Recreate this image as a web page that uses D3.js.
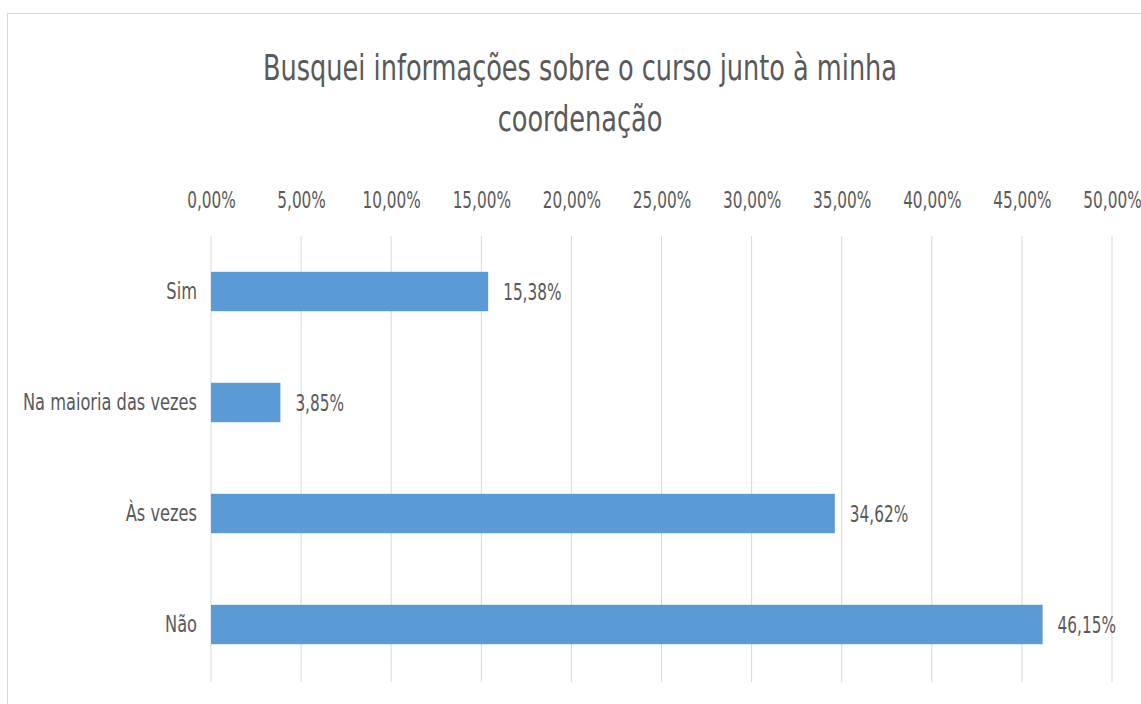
<!DOCTYPE html>
<html><head><meta charset="utf-8">
<script src="https://cdn.jsdelivr.net/npm/d3@7"></script>
<style>
body{margin:0;background:#fff;}
text{font-family:"DejaVu Sans Condensed","DejaVu Sans",sans-serif;fill:#595959;}
</style></head>
<body><svg id="c" width="1141" height="704"></svg>
<script>
const categories = ["Sim", "Na maioria das vezes", "Às vezes", "Não"];
const values = [15.38, 3.85, 34.62, 46.15];
const valueLabels = ["15,38%", "3,85%", "34,62%", "46,15%"];
const ticks = [0, 5, 10, 15, 20, 25, 30, 35, 40, 45, 50];
const tickLabels = ["0,00%","5,00%","10,00%","15,00%","20,00%","25,00%","30,00%","35,00%","40,00%","45,00%","50,00%"];
const titleLines = ["Busquei informações sobre o curso junto à minha", "coordenação"];

const svg = d3.select("#c");
svg.append("rect").attr("x",7.5).attr("y",13.5).attr("width",1160).attr("height",720)
  .attr("fill","none").attr("stroke","#d9d9d9").attr("stroke-width",1);

const x = d3.scaleLinear().domain([0,50]).range([211,1112]);
const y = d3.scaleBand().domain(categories).range([236,680]).paddingInner(0.645).paddingOuter(0.3225);

// gridlines
svg.append("g").selectAll("line").data(ticks).join("line")
  .attr("x1",d=>x(d)).attr("x2",d=>x(d)).attr("y1",236).attr("y2",682)
  .attr("stroke","#d9d9d9").attr("stroke-width",1);

// top axis labels
const axis = d3.axisTop(x).tickValues(ticks).tickFormat((d,i)=>tickLabels[i]).tickSize(0).tickPadding(0);
const ga = svg.append("g").attr("transform","translate(0,208)").call(axis);
ga.select(".domain").remove();
ga.selectAll("text").style("font-size","23px").attr("fill","#595959").attr("dy",0).attr("y",0)
  .attr("transform","scale(0.74,1)");

// bars
svg.append("g").selectAll("rect").data(values).join("rect")
  .attr("x",x(0)).attr("y",(d,i)=>y(categories[i]))
  .attr("width",d=>x(d)-x(0)).attr("height",y.bandwidth())
  .attr("fill","#5b9bd5");

// value labels
svg.append("g").selectAll("text").data(values).join("text")
  .attr("transform",(d,i)=>`translate(${x(d)+15},${y(categories[i])+y.bandwidth()/2}) scale(0.74,1)`)
  .attr("dy","0.36em").style("font-size","23px").text((d,i)=>valueLabels[i]);

// category labels
const gy = svg.append("g").attr("transform","translate(197,0)")
  .call(d3.axisLeft(y).tickSize(0).tickPadding(0));
gy.select(".domain").remove();
gy.selectAll("text").style("font-size","23px").attr("fill","#595959").attr("transform","scale(0.785,1)");

// title
svg.append("g").selectAll("text").data(titleLines).join("text")
  .attr("transform",(d,i)=>`translate(580,${80+i*51}) scale(0.79,1)`).attr("text-anchor","middle")
  .style("font-size","36px").text(d=>d);
</script></body></html>
